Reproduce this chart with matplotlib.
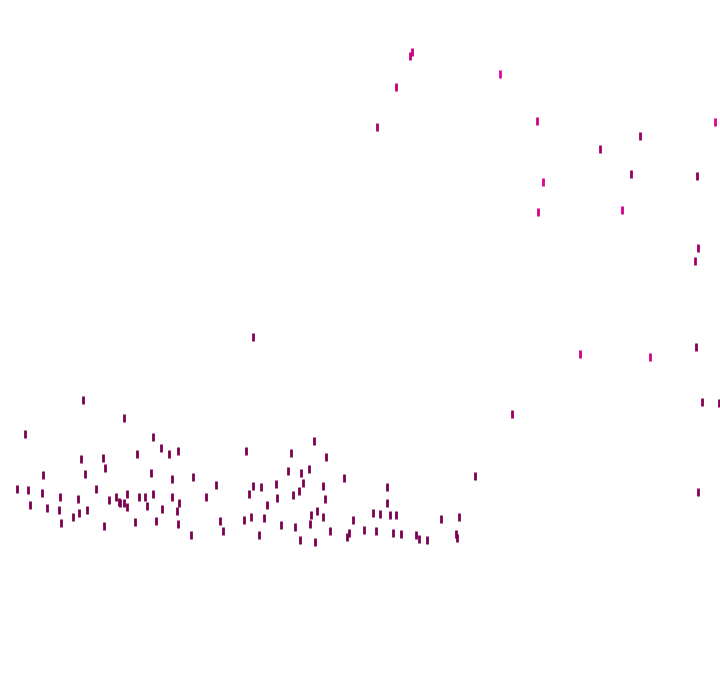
import numpy as np
import matplotlib
matplotlib.use("Agg")
import matplotlib.pyplot as plt
from matplotlib.colors import LinearSegmentedColormap

# point positions (x, y measured from top) and colour intensity
x_top = [412, 410, 396, 500, 377, 537, 715, 640, 600, 631, 697, 543, 538, 622,
         698, 695, 580, 650, 696, 702, 719, 698, 253, 512]
y_top = [52, 56, 87, 74, 127, 121, 122, 136, 149, 174, 176, 182, 212, 210,
         248, 261, 354, 357, 347, 402, 403, 492, 337, 414]
c_top = [0.75, 0.7, 0.65, 1.0, 0.45, 0.8, 0.9, 0.3, 0.4, 0.3, 0.2, 0.9, 0.8, 0.8,
         0.35, 0.35, 0.8, 0.8, 0.1, 0.1, 0.1, 0.15, 0.1, 0.35]

x_low = [83, 25, 81, 103, 105, 43, 85, 17, 28, 42, 96, 60, 78, 109, 116, 119,
         30, 47, 59, 79, 87, 73, 61, 104,
         124, 153, 161, 169, 178, 137, 151, 216, 172, 193, 120, 124, 127, 139,
         145, 153, 172, 179, 206, 127, 147, 162, 177, 135, 156, 178, 220, 223, 191,
         314, 246, 291, 326, 288, 301, 309, 344, 253, 261, 276, 303, 323, 249,
         299, 277, 293, 325, 267, 317, 311, 323, 244, 251, 264, 281, 295, 310,
         330, 347, 349, 259, 300, 315,
         475, 387, 387, 373, 380, 390, 396, 353, 441, 459, 364, 376, 393, 401,
         416, 419, 427, 456, 457]
y_low = [400, 434, 459, 458, 468, 475, 474, 489, 490, 493, 489, 497, 499, 500, 497, 502,
         505, 508, 510, 513, 510, 517, 523, 526,
         418, 437, 448, 454, 451, 454, 473, 485, 479, 477, 503, 503, 494, 497,
         497, 494, 497, 503, 497, 507, 506, 509, 511, 522, 521, 524, 521, 531, 535,
         441, 451, 453, 457, 471, 473, 469, 478, 486, 487, 484, 483, 486, 494,
         491, 498, 495, 499, 505, 511, 515, 517, 520, 517, 518, 525, 527, 524,
         531, 537, 533, 535, 540, 542,
         476, 487, 503, 513, 514, 515, 515, 520, 519, 517, 530, 531, 533, 534,
         535, 539, 540, 534, 538]

xs = np.array(x_top + x_low)
ys = np.array(y_top + y_low)
cs = np.array(c_top + [0.0] * len(x_low))

cmap = LinearSegmentedColormap.from_list("mag", ["#7a004f", "#ad006c", "#ec009a"])

fig = plt.figure(figsize=(7.2, 6.92), dpi=100)
ax = fig.add_axes([0, 0, 1, 1])
ax.scatter(xs, ys, c=cs, cmap=cmap, vmin=0, vmax=1, marker="|", s=28, linewidths=2.0)
ax.set_xlim(0, 720)
ax.set_ylim(692, 0)
ax.axis("off")

fig.savefig("out.png", dpi=100)
plt.close()
